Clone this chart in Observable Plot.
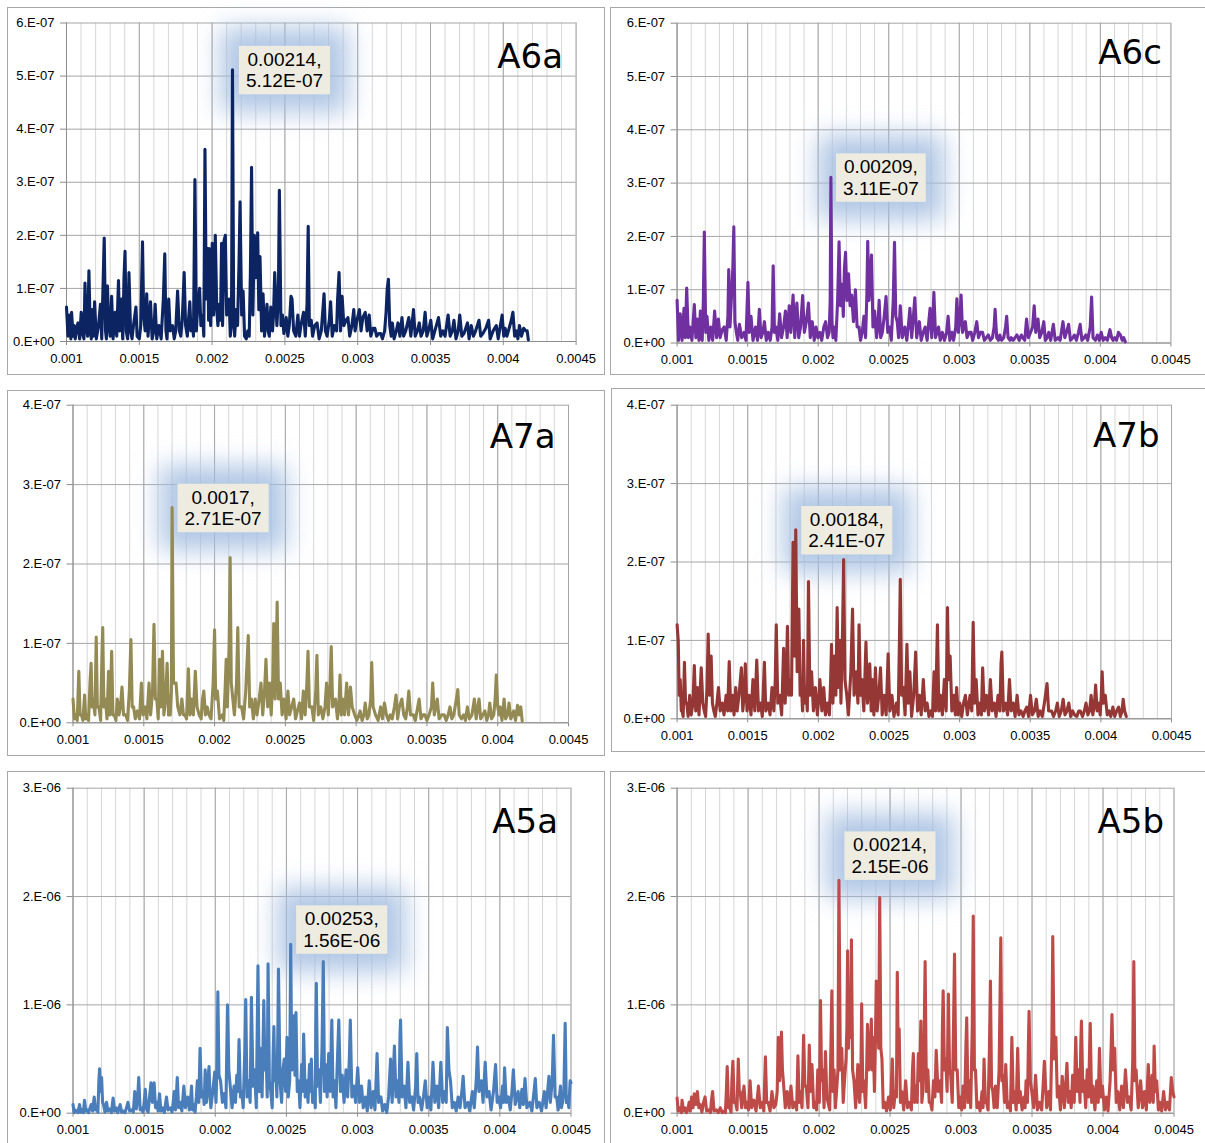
<!DOCTYPE html>
<html><head><meta charset="utf-8">
<script src="https://cdn.jsdelivr.net/npm/d3@7"></script>
<script src="https://cdn.jsdelivr.net/npm/@observablehq/plot@0.6"></script>
<style>
body{margin:0;background:#fff;}
#page{position:relative;width:1205px;height:1143px;overflow:hidden;background:#fff;}
.panel{position:absolute;box-sizing:border-box;border:1px solid #a8a8a8;background:#fff;}
</style></head><body><div id="page"></div>
<script>
// Units used in the spectrum arrays below: frequency x 1e-5, amplitude x 1e-8.
const FREQ_UNIT = 1e-5;
const AMP_UNIT = 1e-8;

const xTicks = [0.001, 0.0015, 0.002, 0.0025, 0.003, 0.0035, 0.004, 0.0045];
const xTickLabels = ["0.001", "0.0015", "0.002", "0.0025", "0.003", "0.0035", "0.004", "0.0045"];
const xMinorTicks = d3.range(11, 46).map(i => i / 10000);

const yTicksA6 = [0, 1e-7, 2e-7, 3e-7, 4e-7, 5e-7, 6e-7];
const yLabelsA6 = ["0.E+00", "1.E-07", "2.E-07", "3.E-07", "4.E-07", "5.E-07", "6.E-07"];
const yTicksA7 = [0, 1e-7, 2e-7, 3e-7, 4e-7];
const yLabelsA7 = ["0.E+00", "1.E-07", "2.E-07", "3.E-07", "4.E-07"];
const yTicksA5 = [0, 1e-6, 2e-6, 3e-6];
const yLabelsA5 = ["0.E+00", "1.E-06", "2.E-06", "3.E-06"];

const panelNames = ["A6a", "A6c", "A7a", "A7b", "A5a", "A5b"];
const peakFreqs = [0.00214, 0.00209, 0.0017, 0.00184, 0.00253, 0.00214];
const peakAmps = [5.12e-7, 3.11e-7, 2.71e-7, 2.41e-7, 1.56e-6, 2.15e-6];
const peakLabels = ["0.00214,\n5.12E-07", "0.00209,\n3.11E-07", "0.0017,\n2.71E-07", "0.00184,\n2.41E-07", "0.00253,\n1.56E-06", "0.00214,\n2.15E-06"];

// flat pairs: frequency, amplitude
const a6aSpectrum = [100,6.5, 101,1, 102,5, 103,0.5, 103.5,5.5, 104.5,1, 105.3,3, 106,0.5, 107,2.5, 107.9,3.5, 109,0.5, 110.1,5.5, 111,1.5, 112,0.5, 112.7,11, 113.5,3, 114.5,1, 115.4,13.3, 116.3,2, 117,0.5, 117.7,6, 118.5,1, 119.3,7.5, 120.5,0.5, 122,3, 123.3,7, 124.2,0.5, 125.9,19.5, 126.8,2, 127.4,0.5, 128.1,10.5, 129,3, 130,1, 131,8.5, 132,0.5, 133.4,5.5, 134.5,1, 135.7,11.5, 136.5,2, 137.6,8, 138.6,0.5, 139.5,12, 140.2,17, 141,2, 142,0.5, 142.9,13, 144,2, 145,0.5, 146,3, 147.7,6.5, 148.5,1, 150,0.5, 151,3, 152.2,18.8, 153,5, 154,2, 155.1,9, 156,1, 157.7,7.5, 158.8,0.5, 160,2, 160.9,7, 162,0.5, 163.5,3, 165,0.5, 166.5,8, 167.5,16.5, 168.3,2, 169,0.5, 170.2,8, 171.2,2, 172.8,3, 174,0.5, 175,2, 176.3,9.5, 177.5,2, 178.5,1, 179.5,4, 180.8,13, 181.8,3, 183,1, 184.7,7.5, 185.5,2, 186.5,4, 187.2,1, 188.2,30.5, 189.2,2, 190,6, 191.4,10, 192.3,3, 193.5,5, 194.3,1, 195.1,36.2, 196,8, 197,17.5, 197.6,4, 198,17.5, 199,3, 200.1,18.5, 201,5, 202.2,20, 203.2,6, 204,3, 204.9,7, 205.8,4, 206.5,18.5, 207.2,3, 208.2,19, 209.1,20, 210,5, 211,7, 211.7,8, 212.5,1, 213.3,3, 214,51.2, 214.8,6, 215.5,1, 216.5,6, 217.5,3, 218.5,15, 219.2,26.3, 220.3,5, 221.3,9.5, 222.3,1, 223.5,0.5, 224.5,2, 225.5,1, 226.3,13, 227.1,32.8, 228,5, 229,20, 230,12, 231.3,20.5, 232.1,6, 232.9,16, 234,2, 235,9, 236,1, 237.7,7, 238.5,2, 239.3,1, 240.3,6.5, 241.5,2, 242.2,5, 243,13, 244.5,3, 245.5,8, 246.2,28.5, 247.3,3, 248.3,5, 249.3,1.5, 250.9,4.5, 252,1, 253,3, 254.2,8.5, 254.9,8, 256,2, 257.5,1, 258.9,5, 260,1, 261,3, 262.8,5.5, 264,1, 265.2,7, 266,21.7, 266.8,3, 268.1,4, 269,1, 270.5,3, 272.1,3.5, 273.5,0.5, 275,2, 276.9,9, 277.8,2, 279,1, 280.5,4, 281.4,7.5, 282.5,1, 284,3, 285.5,2, 286.2,8, 287.2,13, 288.2,2, 289.3,8.5, 290.5,3, 292,4, 293.3,4.5, 294.5,1, 296,3, 297.3,6, 298.2,2, 299.5,4, 301.2,6, 302.3,2, 303.5,4.5, 305.2,5.5, 306.5,2, 307.9,5, 309,1, 310.5,2.5, 311.8,2.5, 313,1, 314.5,1.5, 315.8,1.5, 317,0.5, 318.5,2, 319.5,5.5, 320.3,10, 321.1,11.7, 322,3, 323,1, 323.8,3.5, 325,0.5, 326.5,2, 327.7,3.5, 329,1, 330.4,4.5, 331.5,1, 333,2, 335.1,4.5, 336.5,1, 338.3,6, 339.5,1, 341,2, 342.3,3.5, 343.5,1, 345,2, 346.3,5.5, 347.5,1, 349,2.5, 350.2,4, 351.5,0.5, 353,2, 355.5,4.5, 357,1, 358.5,2, 360,1, 362.1,5, 363.5,1, 365,2, 366.1,4, 367.5,0.5, 369,2, 370.1,5, 371.5,1, 373,1.5, 375.4,3.5, 376.5,0.5, 378,3, 379.5,1, 381,2, 383.3,4, 384.5,1, 386,1.5, 388,2.5, 389.9,4, 391,0.5, 393,2, 395.2,3, 396.5,0.5, 398,3, 399.2,5, 400.3,1, 401.3,2.5, 402.5,1, 404,2.5, 405.5,4, 406.6,5.5, 407.8,1, 409,2, 410,0.5, 411.1,3, 412.5,1, 414,2.5, 415.5,2, 416.4,2, 417.2,0.3];

const a6cSpectrum = [100,8, 101,0.5, 102.2,5.5, 103.5,0.5, 104.9,6.5, 105.8,1, 106.8,10.3, 108,1, 109,3, 110.5,0.5, 112.2,7.2, 113.3,1, 114.4,4.5, 115.5,0.5, 116.5,6, 117.8,0.5, 118.6,8, 119.3,20.8, 120.3,2, 121.2,5, 122.5,0.5, 123.9,3, 125.2,0.5, 126.6,6, 128,1, 129.3,4.5, 130.5,1, 132,2.5, 133.4,3, 134.8,0.5, 136,5, 136.6,13.8, 137.5,3, 139.5,14, 140.2,21.8, 141,4, 142,2, 143,0.5, 144.2,3.5, 145.8,1, 147.5,2, 148.8,0.5, 150.2,11.4, 151.2,2, 152.4,5, 153.8,0.5, 155.6,3, 157,0.5, 158.3,6.3, 159.5,1, 160.8,2, 161.9,4, 163.2,0.5, 164.6,2, 166,0.5, 167.3,3, 168.1,14.5, 169,2, 170,3, 171.4,0.5, 172.7,5.5, 174,1, 175.5,3, 176.8,6, 178,1, 179.5,7, 180.6,2, 182.2,9, 183.4,1, 184.9,7.5, 186.2,1, 187.5,3, 189,8.9, 190.2,2, 191.6,4, 193.1,7.5, 194.4,1, 195.8,4, 197.2,0.5, 198.5,3, 199.8,1, 201.2,2, 202.5,0.5, 204,3, 205.3,4, 206.6,1, 207.8,2, 208.5,8, 209,31.1, 209.8,4, 210.5,1, 211.5,3, 212.5,0.5, 213.8,8, 214.8,19, 215.8,7, 216.9,11, 217.8,5, 218.6,14, 219.4,17, 220.4,8, 221.5,13, 222.6,7, 223.7,9, 225,4, 226.4,10, 227.6,3, 228.9,3, 230,0.5, 231.2,2, 232.4,5, 233.6,1, 234.5,9, 235.1,19.1, 236,8, 236.8,12, 237.8,16.5, 238.8,3, 240,6, 241.4,1, 242.3,3, 243.2,8, 244.3,1, 245.5,2, 246.8,5, 248.1,8.7, 249.3,2, 250.6,3, 251.8,0.5, 253.2,8, 254.1,18.9, 255,5, 256,4, 257,1, 258.2,7, 259.6,1, 261.4,3, 262.8,0.5, 264.2,4, 265,6.5, 266.3,1, 267.5,5, 268.5,8.5, 269.8,1, 271.7,4, 273,0.5, 274.5,2, 275.8,3, 277.2,0.5, 278.4,4, 279.3,6.5, 280.5,1, 281.4,5, 282,9.5, 283.2,1, 285.3,3, 286.5,0.5, 288,2, 289.5,0.5, 291,2, 292.1,5, 293.3,0.5, 294.8,2, 296,0.5, 297.5,3, 298.3,8.3, 299.4,2, 300.5,5, 301.3,9, 302.3,2, 303.3,3, 304.3,4, 305.5,1, 307,2, 308.4,2, 309.5,0.5, 311,2, 312.4,4, 313.6,1, 315,2, 316.5,2, 317.8,0.5, 319.2,1, 320.6,1.5, 322,0.5, 323.5,1, 324.7,3, 325.4,6.3, 326.5,1, 327.8,0.5, 328.7,1.5, 330,0.5, 331.5,1, 332.8,3, 333.6,5, 334.6,1, 336,0.5, 336.8,1, 338.2,0.5, 339.5,1, 340.9,1.5, 342.5,0.5, 344,1.5, 345,1, 346.4,0.5, 347.7,4.5, 349,1, 350.5,2, 352,3, 353.1,7, 354.2,2, 355.8,4.5, 357,1, 358.5,2, 359.9,4, 361,0.5, 362.3,1, 363.4,2, 364.8,0.5, 366.7,3.5, 368,0.5, 370,1, 371.5,0.5, 373.5,4, 374.8,1, 376,2, 377.5,3.5, 378.8,0.5, 380.5,1, 381.6,1.5, 383,0.5, 384.5,2, 385.7,3.5, 386.9,0.5, 388.5,1, 389.7,1.5, 391,0.5, 392.8,3, 393.8,8.6, 394.8,1, 396.5,0.5, 397.9,1.5, 399.2,0.5, 400.6,2, 402,0.5, 403.5,1, 405,0.5, 406.8,2.5, 408,1, 409,0.5, 410.1,1, 411.5,0.5, 412.8,2, 414.2,1.5, 415.5,0.5, 416.5,1, 417.7,0.2];

const a7aSpectrum = [100,3, 101,0.5, 102,1, 103,0.3, 104.1,6.5, 105,1, 106,1, 107,0.3, 108.2,3.5, 109,0.5, 110.1,1, 111,0.3, 112,5, 112.8,7.5, 113.5,2, 114.2,3, 115.5,1, 116.4,10.8, 117.2,2, 118.3,2, 119.5,0.3, 120.4,8, 121,12, 121.8,2, 122.9,3, 124,0.5, 125.1,6.5, 126,1, 126.6,4, 127.3,9, 128.2,1, 129.2,1, 130.3,0.3, 131.3,3, 132.5,1, 133.5,2, 134.6,4.5, 135.7,1, 137.3,1, 138.5,0.3, 139.8,4, 140.9,10.5, 141.8,2, 142.8,2, 144,0.5, 145.5,1.5, 147,0.5, 148.3,5, 149.5,1, 151,2, 152.2,0.5, 153.7,5, 154.8,1, 156.2,4, 157.2,12.4, 158.2,3, 159.2,3, 160.2,0.5, 161.1,8, 162,2, 163.2,9, 164.2,1, 165.4,3, 166.5,7.5, 167.5,1, 168.7,1, 169.5,4, 170,27.1, 171,5, 172.8,5, 174,2, 175.5,1, 176.9,3, 178,1, 179.1,1, 180.2,0.5, 181.5,6.8, 182.6,1, 183.7,3, 185,1, 186.4,6.5, 187.6,2, 189.1,1, 190.5,0.5, 191.5,3, 192.4,4, 193.5,1, 194.8,2, 196,1, 197.5,0.5, 199,5, 200,11.7, 200.8,3, 202,4, 203.5,0.5, 205.5,1, 206.5,0.3, 207.4,4, 208.2,8, 209,2, 210.3,10, 211,20.8, 211.8,5, 212.9,3, 214,1, 215.5,5, 216.4,12, 217.4,2, 219.1,2, 220.5,0.5, 222,4, 223.8,11, 224.8,2, 226,3, 227.4,0.5, 228.7,3, 230,1, 231.5,3, 232.8,5, 234,1, 235.3,4, 236.3,8, 237.5,2, 238.8,5, 240,1, 241.2,6, 241.8,12.5, 242.8,3, 243.6,9, 244.2,15.2, 245.2,3, 246.4,5, 247.7,1, 249.1,3, 250.5,0.5, 251.8,4, 253,1, 254.5,2, 255.9,3, 257.2,0.5, 258.5,1.5, 260,2.5, 261.4,0.5, 262.7,4, 264,1, 265.2,5, 266,9, 267,2, 268.7,2, 270,0.3, 271.5,4, 272.3,8.5, 273.3,1, 275,2, 276.5,0.5, 278,2, 279.1,5, 280.3,1, 281.6,5, 282.4,9.6, 283.4,2, 285.4,3, 286.8,0.5, 288,3, 288.6,6, 289.5,1, 290.5,3, 291.8,1, 293.3,5, 294.6,1, 296,4.5, 297.2,2, 299,1, 300.5,0.3, 302,1, 302.8,1.5, 304.2,0.3, 305.5,1, 306.4,2.5, 307.8,0.5, 309,1, 310.3,3, 311,7.6, 312,2, 313.7,1, 315.5,0.3, 317.3,2, 318.6,0.5, 320,2.5, 321.4,1, 322.8,0.3, 324.1,1, 325.5,0.5, 327,2, 328.2,3.5, 329.3,0.5, 330.5,2, 332.3,3, 333.6,1, 335,0.5, 336.2,2, 337.2,4, 338.4,1, 340.4,1, 341.8,0.3, 343,1.5, 344.5,3, 345.8,0.5, 347.2,1, 348.6,1, 350,0.3, 351.5,1, 353.2,2, 354.1,5, 355.2,1, 356.3,2, 357.3,3, 358.6,0.5, 360.5,1, 362.2,1, 363.6,0.3, 365,1, 366.3,2, 367.6,0.5, 369,1, 370.8,3, 371.8,4.2, 372.8,1, 374.4,0.5, 375.9,1, 377.2,0.3, 378.6,2, 380,0.5, 381.8,1, 383.5,3, 384.8,0.5, 386,2, 386.8,3, 388,0.5, 389.5,1, 390.9,1.5, 392.3,0.3, 393.5,1, 394.4,2.5, 395.7,0.5, 397.2,1, 398.2,3, 399,6, 400,2, 401,1, 401.8,2, 403,0.3, 404.5,3, 405.6,0.5, 407,1, 408,2.5, 409.2,0.5, 410.5,1, 411.3,1.5, 412.6,0.3, 413.5,1.5, 414,2.2, 415.2,1, 416.3,2, 417.3,0.2];

const a7bSpectrum = [100,12, 100.8,10, 101.5,3, 102.2,5, 103,1, 103.5,1, 104.3,0.3, 105.2,7.2, 106,2, 106.8,2, 107.8,0.3, 108.9,3, 110,0.5, 111.2,2, 112.2,6.8, 113.2,1, 114.4,4, 115.5,0.5, 117.1,6.5, 118.2,2, 119.2,1, 120.2,0.3, 121.2,4, 122,10.8, 123,3, 124.1,8, 125,2, 126,1, 127,0.3, 128.2,2, 129.3,4, 130.5,1, 132,2, 133.2,0.5, 134.7,3, 135.8,1, 136.9,7.3, 138,1, 139.3,3, 140.3,0.5, 141.5,4, 142.5,1, 143.8,3, 145.5,6.5, 146.5,1, 147.5,3, 148.3,7, 149.5,1, 151,3, 152.3,0.5, 153.7,5, 155,1, 156.4,7.5, 157.6,1, 159.1,2, 160.3,0.3, 161.8,7.2, 162.8,1, 164.5,2, 165.8,0.5, 167.2,4, 168.5,1, 169.5,5, 170.2,12, 171.3,2, 172.7,3, 174,0.5, 175.4,9, 176.5,2, 177.4,6, 178.1,11.8, 179,3, 180,5, 181,3, 182.1,22.5, 183.2,8, 184,24.1, 185,6, 186.2,14, 187.1,3, 188.1,4, 188.8,1, 189.5,10, 190.3,2, 191.1,4, 192.2,1, 193,17.5, 194,3, 195.2,6, 196.5,1, 197.9,4, 199.3,0.5, 200.5,3, 201.1,5, 202.5,1, 203.8,4, 205,0.5, 206.5,2, 207.8,0.5, 208.7,5, 209.3,9.5, 210.3,2, 211.4,8, 212.4,3, 213.3,14.2, 214.2,4, 215.2,10, 216,2, 217.2,12, 217.9,20.3, 218.8,5, 220.1,3, 221.3,0.5, 223,6, 224.2,14, 225.3,3, 226.9,6, 228,2, 228.8,12, 229.8,3, 230.9,5, 232.2,1, 233.7,9.8, 234.8,2, 236.4,7, 237.4,1, 238.3,5, 239.3,0.5, 240.4,6.5, 241.6,1, 242.8,3, 244,6.5, 245.2,0.5, 246.7,3, 248,0.5, 249.4,8.3, 250.6,1, 252.1,3, 253.5,0.3, 255.3,2, 256.5,0.5, 257.4,10, 258,17.8, 259,3, 260.2,4, 261.4,0.5, 262.7,9.5, 263.7,2, 264.8,6, 266,0.3, 267.5,3, 268.9,8.5, 270.2,1, 271.6,3, 272.8,0.5, 274.3,5, 275.6,1, 277,2, 278.3,0.3, 279.7,1, 280.8,0.3, 281.9,6, 283,1, 284.3,12, 285.3,1, 286.5,3, 287.8,0.5, 289.2,5, 290.5,1, 291.4,14.2, 292.3,5, 293.3,8, 294.5,1, 296,3, 297,0.5, 297.9,4, 299,0.5, 300.1,2, 301.5,0.3, 302.8,2, 304.1,3, 305.5,0.5, 307.4,3, 308.6,1, 309.6,12.3, 310.6,2, 311.7,5, 313,0.5, 314.4,2, 315.4,0.5, 316.3,6.5, 317.5,1, 319,3, 320.5,0.5, 321.8,5, 323,1, 324.5,2, 325.8,0.3, 327.2,3, 328.5,1, 329.3,7, 329.9,8.5, 331,1, 332.6,2, 334,0.5, 335.3,5, 336.5,1, 338,2, 339.3,0.3, 340.7,3, 342,0.5, 343.4,1, 345,0.3, 346.2,1, 347.5,1.5, 348.8,0.3, 350.2,3, 351.5,0.5, 353,1, 354.3,2.5, 355.6,0.3, 357,1, 358.5,0.3, 360,2, 361.9,4.5, 363,1, 365.1,1, 366.5,0.3, 368,1, 369.2,2, 370.5,0.3, 372,1, 373.3,2.5, 374.6,0.5, 376,1, 377.3,2, 378.6,0.3, 380,1, 381.4,0.5, 383,0.3, 384.3,1, 385.5,1, 387,0.3, 388.3,1, 389.5,2, 390.8,0.5, 392,1, 393.1,3, 394.3,0.5, 395.5,2, 396.3,4.3, 397.3,1, 398.5,2, 399.5,0.5, 400.3,3, 400.9,6, 401.8,2, 403.1,3, 404.5,0.5, 405.8,1, 407,0.3, 408.5,1.5, 409.8,0.3, 411.2,1, 412.6,1.5, 413.8,0.3, 415,1, 415.8,2.5, 416.8,1, 418,0.3];

const a5aSpectrum = [100,8, 100.8,0.5, 101.5,3, 102.7,2, 103.5,0.5, 104.6,8, 105.5,1, 106.5,3, 107.3,0.5, 108.1,12, 109,2, 110,3, 111,0.5, 112,5, 112.8,8, 113.8,2, 114.9,15, 115.8,3, 116.8,5, 117.5,1, 118.2,30, 118.7,41, 119.4,20, 120.1,33, 120.8,10, 121.4,8, 122.5,1, 123.6,10, 124.5,2, 125.8,4, 127,0.5, 128.2,14, 129.2,2, 130.4,5, 131.5,0.5, 132.3,4, 133.1,8, 134.2,1, 135.3,2, 136.5,0.5, 137.6,5, 138.6,10, 139.8,2, 141.3,3, 142.4,1, 143.4,20, 144.5,4, 145.5,15, 146.2,33, 147.2,3, 148.1,5, 149.2,1, 150,10, 150.8,22, 151.8,3, 152.8,1, 153.8,15, 154.8,28, 155.8,10, 157,28, 158,5, 158.9,10, 159.8,2, 160.8,18, 161.8,2, 163,5, 164.2,0.5, 165.7,15, 166.8,3, 168.4,5, 169.6,1, 170.4,10, 171.1,20, 172,3, 172.6,15, 173.3,33, 174.2,5, 175.2,10, 176.5,2, 177.9,25, 179,5, 180.6,15, 181.8,3, 182.5,10, 183.3,25, 184,3, 184.7,8, 185.8,1, 186.7,15, 187.4,30, 188.4,10, 189.3,60, 190.3,15, 191.5,20, 192.2,8, 192.9,40, 193.8,10, 194.8,30, 195.6,43, 196.3,15, 196.9,5, 198.2,20, 199.6,38, 200.5,10, 201.3,50, 201.8,112, 202.6,35, 203.7,30, 205,10, 206.4,18, 207.5,5, 208.1,60, 208.6,100, 209.5,40, 210.5,25, 211.8,5, 213.2,25, 214.2,10, 215.1,35, 215.9,20, 216.7,68, 217.7,15, 218.6,20, 219.6,5, 220.8,60, 221.4,105, 222.3,15, 223.3,30, 224.5,10, 225.4,107, 226.5,25, 227.6,40, 228.8,5, 229.5,80, 230,136, 230.9,20, 231.7,60, 232.9,15, 234.1,104, 234.9,40, 235.8,50, 236.5,15, 237.1,138, 238,30, 239,20, 240,5, 240.6,50, 241.2,80, 241.8,30, 242.3,50, 243.3,15, 244,80, 244.4,133, 245.5,30, 246.6,10, 247.5,40, 248.5,50, 249.4,20, 250.4,70, 251.3,15, 252.3,30, 253,156, 253.8,40, 254.5,80, 255.3,90, 256,35, 256.7,93, 257.6,20, 258.6,30, 259.5,5, 260.7,45, 261.5,20, 262.1,73, 263.2,15, 264.3,30, 265.2,10, 266.2,45, 267,20, 267.5,50, 268.4,10, 269.4,20, 270.3,5, 270.6,80, 271,120, 271.9,25, 272.9,40, 273.9,10, 275,60, 275.9,140, 276.8,20, 277.6,45, 278.6,15, 279.7,55, 280.8,20, 281.9,86, 282.8,15, 283.8,30, 284.8,5, 285.6,40, 286.8,86, 288,20, 289.2,35, 290.5,10, 291.9,40, 293,15, 294.2,50, 294.9,86, 296,15, 297.4,25, 298.6,10, 300.1,42, 301.4,10, 302.8,25, 304,5, 305.5,15, 306.8,2, 308.2,30, 309.5,5, 311,20, 312.2,3, 313,30, 313.7,55, 314.8,10, 316.4,15, 317.6,2, 319.1,8, 320.5,0.5, 321.8,15, 323.2,50, 324.3,10, 325.9,62, 327,15, 328.1,30, 329.1,10, 329.8,70, 330.2,86, 331.3,15, 332.7,25, 334,5, 335.4,47, 336.6,10, 338.1,15, 339.4,3, 340.8,25, 341.6,55, 342.5,10, 343.5,15, 345,3, 346.3,15, 347.6,30, 348.9,5, 350.3,15, 351.5,3, 352.3,25, 353,47, 354.3,10, 355.8,25, 357,5, 358.5,47, 359.8,10, 361.2,20, 362.3,10, 363.1,79, 364.2,40, 365.3,30, 366.6,5, 368,10, 369.3,2, 370.7,15, 372,5, 373.3,20, 374.2,34, 375.5,5, 377.5,10, 378.8,2, 380.7,20, 382,5, 383.4,30, 384.3,61, 385.3,20, 387,30, 388.2,10, 389.7,47, 390.9,15, 392.4,20, 393.8,3, 395.5,20, 397,45, 398.1,10, 399.2,15, 400.5,5, 401.9,25, 402.6,10, 403.3,42, 404.5,10, 406,15, 407.3,3, 408.5,20, 409.5,40, 410.8,8, 412.8,20, 414,5, 415.5,22, 416.5,8, 417.7,32, 419,5, 421,10, 422.5,2, 424,20, 424.9,32, 426,5, 427.7,10, 429.3,2, 431.2,20, 432.5,5, 434.5,34, 435.5,10, 436.8,30, 437.7,72, 438.8,15, 439.9,15, 441,3, 442.6,25, 443.3,5, 444,10, 445,20, 445.9,83, 446.7,10, 447.5,15, 448.5,5, 449.4,30, 450,28];

const a5bSpectrum = [100,14, 100.8,2, 101.5,5, 102.2,3, 103,0.5, 103.5,12, 104.5,2, 105.7,5, 106.6,0.5, 107.5,3, 108.5,10, 109.3,2, 110.2,15, 111.2,5, 112.1,18, 113.2,8, 114.3,20, 115.3,5, 116.4,8, 117.5,1, 118.6,10, 119.7,15, 120.8,2, 122.3,3, 123.5,0.5, 124.2,12, 125,20, 126,2, 127.7,3, 129,0.5, 130.4,5, 131.8,0.5, 133.1,2, 134,0.5, 134.7,20, 135.3,43, 136.2,5, 137.1,5, 138,1, 138.6,30, 139.3,48, 140.2,10, 141.2,10, 142.2,3, 143.1,50, 143.8,20, 144.4,20, 145.5,5, 147.1,25, 148.2,5, 149.3,10, 150.3,3, 151.4,30, 152.5,5, 154.1,12, 155.6,2, 157.3,25, 158.6,5, 160,10, 161.1,2, 162.2,52, 163.1,10, 164.1,10, 165.5,2, 166.8,20, 168.2,5, 169.5,8, 170.5,20, 171.3,70, 172.2,30, 172.9,50, 173.5,75, 174.2,40, 174.8,30, 176.2,5, 177.5,20, 178.9,5, 180.2,25, 181.5,5, 182.9,10, 184.2,3, 185.1,53, 186,10, 186.9,20, 188,5, 189.1,72, 190,25, 191,25, 192.2,5, 193.1,63, 194,20, 195,45, 196.2,5, 197.2,10, 198.2,3, 199.1,40, 200.2,10, 201,104, 201.8,30, 202.6,40, 203.5,5, 204.5,57, 205.5,15, 206.3,10, 207.5,3, 208.3,60, 209,113, 209.8,20, 210.6,40, 211.5,5, 212.3,20, 213.3,40, 214,215, 215,40, 216,60, 217,10, 217.9,30, 219,50, 219.6,80, 220.1,150, 220.7,60, 221.1,90, 222.2,70, 222.8,160, 223.6,40, 224.6,30, 225.8,5, 227.3,45, 228.5,10, 229.4,30, 230,101, 230.8,20, 231.6,30, 232.8,5, 233.5,40, 234.1,82, 235.2,40, 236.2,60, 236.8,87, 237.5,40, 238.1,70, 239,20, 239.6,60, 240.3,122, 240.8,70, 241.3,90, 242,60, 242.7,199, 243.5,60, 244.3,50, 245.2,5, 246.2,10, 247.5,2, 248.9,15, 250.2,3, 251.6,50, 252.6,5, 253.7,20, 254.5,15, 255.1,130, 255.8,50, 256.4,78, 257.3,10, 258.3,20, 259.6,3, 261,30, 262.3,5, 263.7,10, 265,3, 265.8,40, 266.4,55, 267.3,10, 268.3,25, 269.1,10, 269.9,55, 270.8,30, 271.7,85, 272.4,10, 273.1,20, 273.9,60, 274.7,140, 275.6,20, 276.6,40, 277.6,10, 278.5,10, 279.5,3, 280.6,30, 281.6,15, 282.5,58, 283.8,20, 285.2,30, 286.3,10, 286.9,80, 287.4,113, 288.3,40, 289.2,50, 290.2,20, 291.1,110, 291.9,40, 292.7,35, 293.8,10, 294.7,80, 295.4,147, 296.3,40, 297.3,40, 298.4,5, 299.5,15, 300.5,3, 301.4,25, 302.5,5, 303.4,60, 304,88, 304.9,10, 305.9,30, 306.8,5, 307.9,80, 308.6,182, 309.4,40, 310.2,40, 311.2,5, 312.1,10, 313.4,2, 314.8,20, 315.5,5, 316.2,50, 317.1,10, 318,10, 319,3, 320,60, 320.7,122, 321.5,25, 322.4,20, 323.3,5, 324.2,25, 325.5,5, 326.8,40, 327.4,100, 328,162, 328.8,30, 329.6,35, 330.6,10, 331.5,45, 332.6,5, 333.7,10, 334.8,2, 335.8,70, 336.8,10, 337.7,20, 338.8,3, 339.9,60, 340.8,10, 341.7,20, 343,3, 344.4,15, 345.1,5, 345.8,30, 346.8,10, 347.4,60, 347.9,94, 348.8,30, 349.8,20, 351.2,5, 352.5,35, 353.8,3, 355.2,10, 356.8,3, 358,30, 358.7,48, 360.3,5, 361.9,20, 363,3, 364,70, 364.6,163, 365.6,50, 366.8,70, 367.8,15, 368.7,25, 370,3, 371.3,34, 372.8,5, 374.6,46, 375.6,10, 376.7,20, 377.6,5, 378.6,35, 379.7,10, 380.8,70, 381.8,20, 382.9,40, 383.8,10, 384.3,60, 384.8,85, 385.8,20, 386.7,30, 387.8,5, 388.9,40, 389.9,15, 390.4,50, 391,83, 392,10, 392.9,25, 394.3,3, 395.6,30, 396.6,10, 397.5,60, 398.5,15, 399.6,25, 401,3, 402.3,15, 403.5,2, 405,30, 405.7,60, 406.3,91, 407.2,40, 408.2,60, 409.3,10, 410.4,20, 411.8,3, 413.1,25, 414.4,5, 415.8,40, 417.2,10, 418.5,15, 419.8,3, 421,50, 421.7,140, 422.5,30, 423.3,40, 424.8,5, 426.5,30, 427.8,5, 429.2,20, 430.5,3, 431.9,45, 433,10, 434.6,35, 435.4,10, 436,62, 436.9,20, 437.8,30, 439,3, 440,10, 441.3,2, 442.7,20, 444,3, 445.4,10, 446.8,3, 448.1,33, 449.1,20, 450,15];

const spectra = [a6aSpectrum, a6cSpectrum, a7aSpectrum, a7bSpectrum, a5aSpectrum, a5bSpectrum];
const seriesColors = ["#0c2461", "#7030a0", "#948a54", "#953735", "#4a7ebb", "#be4b48"];

// Layout (page pixels): panel box [left, top, width, height], plot frame [x0, y0, x1, y1]
const layout = [
  {box: [7, 7, 598, 368], frame: [66, 22.5, 575.6, 341], name: [-13, 21], ann: [52, 0]},
  {box: [610, 7, 600, 368], frame: [676.6, 22.7, 1170.4, 342.5], name: [-9, 17], ann: [50, 0]},
  {box: [7, 390, 598, 366], frame: [72.5, 404.7, 568, 722.3], name: [-13, 19], ann: [51, 0]},
  {box: [611, 388, 600, 364], frame: [676.6, 404.7, 1171, 718.3], name: [-12, 18], ann: [51, 0]},
  {box: [7, 771, 598, 380], frame: [72.5, 787.7, 570.5, 1112.7], name: [-13, 21], ann: [51, -15]},
  {box: [610, 771, 600, 380], frame: [676.6, 787.7, 1173.5, 1112.7], name: [-10, 21], ann: [51, -25]}
];
const yTickSets = [yTicksA6, yTicksA6, yTicksA7, yTicksA7, yTicksA5, yTicksA5];
const yLabelSets = [yLabelsA6, yLabelsA6, yLabelsA7, yLabelsA7, yLabelsA5, yLabelsA5];

function toPoints(flat) {
  const out = [];
  for (let i = 0; i < flat.length; i += 2) out.push({f: flat[i] * FREQ_UNIT, a: flat[i + 1] * AMP_UNIT});
  return out;
}

const page = document.getElementById("page");
const xLabelMap = new Map(xTicks.map((t, i) => [t, xTickLabels[i]]));

panelNames.forEach((name, k) => {
  const L = layout[k];
  const [bl, bt, bw, bh] = L.box;
  const [fx0, fy0, fx1, fy1] = L.frame;
  const yTicks = yTickSets[k];
  const yLabelMap = new Map(yTicks.map((t, i) => [t, yLabelSets[k][i]]));

  const border = document.createElement("div");
  border.className = "panel";
  Object.assign(border.style, {left: bl + "px", top: bt + "px", width: bw + "px", height: bh + "px"});
  page.appendChild(border);

  const peak = [{f: peakFreqs[k], a: peakAmps[k], label: peakLabels[k]}];

  const plot = Plot.plot({
    width: bw, height: bh,
    marginLeft: fx0 - bl, marginRight: bl + bw - fx1,
    marginTop: fy0 - bt, marginBottom: bt + bh - fy1,
    style: {background: "transparent", fontFamily: "'Liberation Sans', Arial, sans-serif", fontSize: "13px", color: "#000", overflow: "visible"},
    x: {domain: [xTicks[0], xTicks[xTicks.length - 1]]},
    y: {domain: [0, yTicks[yTicks.length - 1]]},
    marks: [
      Plot.gridX(xMinorTicks, {stroke: "#d6d6d6", strokeOpacity: 1}),
      Plot.gridX(xTicks, {stroke: "#a6a6a6", strokeOpacity: 1}),
      Plot.gridY(yTicks, {stroke: "#a6a6a6", strokeOpacity: 1}),
      Plot.axisY(yTicks, {tickFormat: d => yLabelMap.get(d), tickSize: 6, tickPadding: 6, fontSize: 13, stroke: "#8c8c8c", label: null}),
      Plot.axisX(xTicks, {tickFormat: d => xLabelMap.get(d), tickSize: 4, tickPadding: 8, fontSize: 13, stroke: "#8c8c8c", label: null}),
      Plot.ruleY([0], {stroke: "#8c8c8c"}),
      Plot.ruleX([xTicks[0]], {stroke: "#8c8c8c"}),
      Plot.line(toPoints(spectra[k]), {x: "f", y: "a", stroke: seriesColors[k], strokeWidth: 3.1, strokeLinejoin: "round", strokeLinecap: "round"}),
      Plot.text(peak, {x: "f", y: "a", text: "label", dx: L.ann[0], dy: L.ann[1], fontSize: 19, lineHeight: 1.13, lineAnchor: "middle", textAnchor: "middle", fill: "#000", ariaDescription: "annotation"}),
      Plot.text([name], {frameAnchor: "top-right", text: d => d, textAnchor: "end", lineAnchor: "top", dx: L.name[0], dy: L.name[1], fontSize: 34, fontFamily: "'DejaVu Sans', sans-serif", fill: "#000", ariaDescription: "panel-name"})
    ]
  });
  Object.assign(plot.style, {position: "absolute", left: bl + "px", top: bt + "px", background: "transparent", maxWidth: "none"});
  page.appendChild(plot);

  // label box and glow behind the peak annotation
  const svg = d3.select(plot);
  const ann = svg.select('g[aria-description="annotation"]');
  const bb = ann.node().getBBox();
  const padX = 7, padY = 3;
  const bx = bb.x - padX, by = bb.y - padY, bw2 = bb.width + 2 * padX, bh2 = bb.height + 2 * padY;
  const fid = "glow" + k;
  svg.insert("defs", ":first-child").append("filter").attr("id", fid)
    .attr("x", "-100%").attr("y", "-100%").attr("width", "300%").attr("height", "300%")
    .append("feGaussianBlur").attr("stdDeviation", 13);
  svg.insert("g", 'g[aria-label="line"]').attr("transform", ann.attr("transform"))
    .append("rect").attr("x", bx - 18).attr("y", by - 18).attr("width", bw2 + 36).attr("height", bh2 + 36)
    .attr("fill", "#a3bde0").attr("fill-opacity", 0.85).attr("filter", `url(#${fid})`);
  ann.insert("rect", ":first-child").attr("x", bx).attr("y", by).attr("width", bw2).attr("height", bh2).attr("fill", "#eeece1");
});
</script></body></html>
